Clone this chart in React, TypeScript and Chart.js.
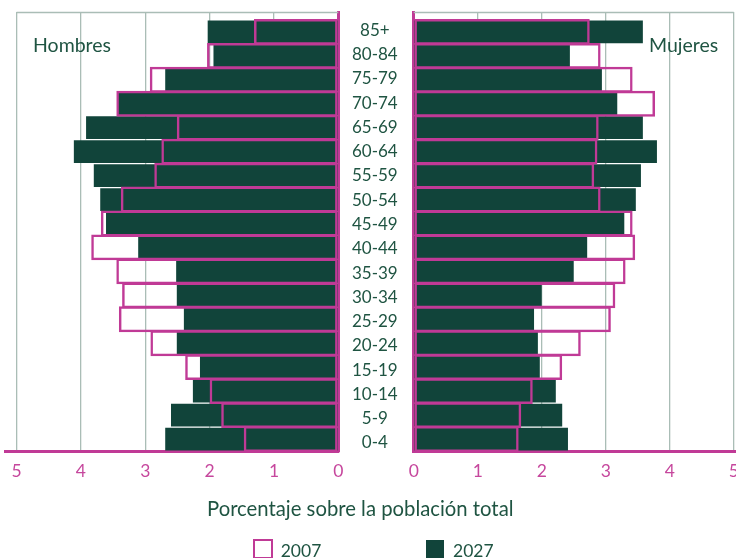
import React, { useEffect, useRef } from "react";
import { Chart, registerables } from "chart.js";

Chart.register(...registerables);

// Age groups from bottom (index 0) to top
const ageGroups = ["0-4", "5-9", "10-14", "15-19", "20-24", "25-29", "30-34", "35-39", "40-44", "45-49", "50-54", "55-59", "60-64", "65-69", "70-74", "75-79", "80-84", "85+"];

const men2007 = [1.47, 1.82, 2.0, 2.38, 2.92, 3.41, 3.36, 3.45, 3.84, 3.69, 3.38, 2.86, 2.75, 2.51, 3.45, 2.93, 2.04, 1.31];
const men2027 = [2.69, 2.6, 2.26, 2.15, 2.51, 2.4, 2.51, 2.52, 3.11, 3.61, 3.7, 3.8, 4.11, 3.92, 3.43, 2.69, 1.94, 2.03];
const women2007 = [1.64, 1.68, 1.86, 2.32, 2.61, 3.08, 3.15, 3.31, 3.46, 3.42, 2.92, 2.82, 2.87, 2.89, 3.77, 3.42, 2.92, 2.75];
const women2027 = [2.41, 2.32, 2.22, 1.97, 1.94, 1.88, 2.0, 2.5, 2.71, 3.29, 3.47, 3.55, 3.8, 3.58, 3.18, 2.94, 2.44, 3.58];

const xTickValues = [0, 1, 2, 3, 4, 5];
const seriesNames = ["2007", "2027"];
const panelNames = ["Hombres", "Mujeres"];
const axisTitle = "Porcentaje sobre la población total";

const BAR_GREEN = "#11443a";
const MAGENTA = "#c03a96";
const TICK_COLOR = "#c6479d";
const TEXT_GREEN = "#1f5442";
const GRID = "#aabdb6";
const FONT = "Lato";

Chart.defaults.font.family = FONT;

const xMax = xTickValues[xTickValues.length - 1];

const topBorderPlugin = {
  id: "topBorder",
  beforeDatasetsDraw(chart: any) {
    const { ctx, chartArea, scales } = chart;
    const xs = scales.x;
    const a = xs.getPixelForValue(xTickValues[0]);
    const b = xs.getPixelForValue(xMax);
    ctx.save();
    ctx.strokeStyle = GRID;
    ctx.lineWidth = 1.5;
    ctx.beginPath();
    ctx.moveTo(Math.min(a, b), chartArea.top + 0.5);
    ctx.lineTo(Math.max(a, b), chartArea.top + 0.5);
    ctx.stroke();
    ctx.restore();
  },
};

const zeroPad = (s: any) => {
  s.paddingLeft = 0;
  s.paddingRight = 0;
  s.paddingTop = 0;
  s.paddingBottom = 0;
};

function makeDatasets(v2007: number[], v2027: number[]) {
  return [
    {
      label: seriesNames[0],
      data: v2007.map((v, i) => ({ x: v, y: i })),
      backgroundColor: "rgba(0,0,0,0)",
      borderColor: MAGENTA,
      borderWidth: 2.5,
      borderSkipped: false,
      barPercentage: 1.08,
      categoryPercentage: 1,
      grouped: false,
      yAxisID: "y",
    },
    {
      label: seriesNames[1],
      data: v2027.map((v, i) => ({ x: v, y: i })),
      backgroundColor: BAR_GREEN,
      borderWidth: 0,
      barPercentage: 0.95,
      categoryPercentage: 1,
      grouped: false,
      yAxisID: "y",
    },
  ];
}

const xAxisBase = (reverse: boolean, max: number) => ({
  type: "linear",
  reverse,
  min: 0,
  max,
  position: "bottom",
  offset: false,
  grid: { color: GRID, lineWidth: 1.3, drawTicks: false, offset: false },
  border: { display: true, color: MAGENTA, width: 3 },
  ticks: {
    stepSize: 1,
    includeBounds: false,
    color: TICK_COLOR,
    font: { family: FONT, size: 17.5 },
    padding: 10,
    maxRotation: 0,
  },
  afterFit: (s: any) => {
    s.height = 49;
    zeroPad(s);
  },
});

export default function App() {
  const leftRef = useRef<HTMLCanvasElement>(null);
  const rightRef = useRef<HTMLCanvasElement>(null);

  useEffect(() => {
    const left = new Chart(leftRef.current as HTMLCanvasElement, {
      type: "bar",
      data: { datasets: makeDatasets(men2007, men2027) as any },
      options: {
        indexAxis: "y",
        responsive: false,
        animation: false,
        devicePixelRatio: 1,
        layout: { padding: { left: 5, top: 12, right: 11.7, bottom: 0 } },
        plugins: { legend: { display: false }, tooltip: { enabled: false } },
        scales: {
          x: xAxisBase(true, 5.18) as any,
          y: {
            type: "linear",
            min: -0.5,
            max: 17.83,
            offset: false,
            position: "right",
            grid: { drawOnChartArea: false, drawTicks: false, offset: false },
            border: { display: true, color: MAGENTA, width: 3 },
            ticks: { display: false, stepSize: 1, includeBounds: false },
            afterFit: (s: any) => {
              s.width = 0;
              zeroPad(s);
            },
          },
        },
      },
      plugins: [topBorderPlugin],
    });

    const right = new Chart(rightRef.current as HTMLCanvasElement, {
      type: "bar",
      data: { datasets: makeDatasets(women2007, women2027) as any },
      options: {
        indexAxis: "y",
        responsive: false,
        animation: false,
        devicePixelRatio: 1,
        layout: { padding: { left: 0, top: 12, right: 0, bottom: 0 } },
        plugins: { legend: { display: false }, tooltip: { enabled: false } },
        scales: {
          x: xAxisBase(false, 5.035) as any,
          y: {
            type: "linear",
            display: false,
            min: -0.5,
            max: 17.83,
            offset: false,
            grid: { offset: false },
            ticks: { stepSize: 1, includeBounds: false },
          },
          yl: {
            type: "linear",
            position: "left",
            min: -0.33,
            max: 17.75,
            offset: false,
            grid: { drawOnChartArea: false, drawTicks: false, offset: false },
            border: { display: true, color: MAGENTA, width: 3 },
            ticks: {
              stepSize: 1,
              includeBounds: false,
              autoSkip: false,
              crossAlign: "center",
              padding: 16,
              color: TEXT_GREEN,
              font: { family: FONT, size: 17 },
              callback: (v: any) => ageGroups[Math.round(Number(v))] ?? "",
            },
            afterFit: (s: any) => {
              s.width = 68.7;
              zeroPad(s);
            },
          },
        },
      },
      plugins: [topBorderPlugin],
    });

    return () => {
      left.destroy();
      right.destroy();
    };
  }, []);

  const textBase: React.CSSProperties = {
    position: "absolute",
    fontFamily: FONT,
    color: TEXT_GREEN,
    lineHeight: 1,
    whiteSpace: "nowrap",
    margin: 0,
  };

  return (
    <div
      style={{
        position: "fixed",
        left: 0,
        top: 0,
        width: 736,
        height: 558,
        background: "#ffffff",
        overflow: "hidden",
      }}
    >
      <canvas ref={leftRef} width={350} height={500} style={{ position: "absolute", left: 0, top: 0 }} />
      <canvas ref={rightRef} width={391} height={500} style={{ position: "absolute", left: 345, top: 0 }} />
      <div style={{ ...textBase, left: 33, top: 35, fontSize: 19.5 }}>{panelNames[0]}</div>
      <div style={{ ...textBase, left: 649, top: 35, fontSize: 19.5 }}>{panelNames[1]}</div>
      <div style={{ ...textBase, left: 207, top: 498.3, fontSize: 20.3 }}>{axisTitle}</div>
      <div
        style={{
          position: "absolute",
          left: 252.7,
          top: 539.3,
          width: 20,
          height: 20,
          boxSizing: "border-box",
          border: `2.5px solid ${MAGENTA}`,
          background: "#fff",
        }}
      />
      <div style={{ ...textBase, left: 280.7, top: 541.8, fontSize: 17.5 }}>{seriesNames[0]}</div>
      <div
        style={{
          position: "absolute",
          left: 426,
          top: 540.3,
          width: 18,
          height: 18,
          background: BAR_GREEN,
        }}
      />
      <div style={{ ...textBase, left: 453, top: 541.8, fontSize: 17.5 }}>{seriesNames[1]}</div>
    </div>
  );
}
